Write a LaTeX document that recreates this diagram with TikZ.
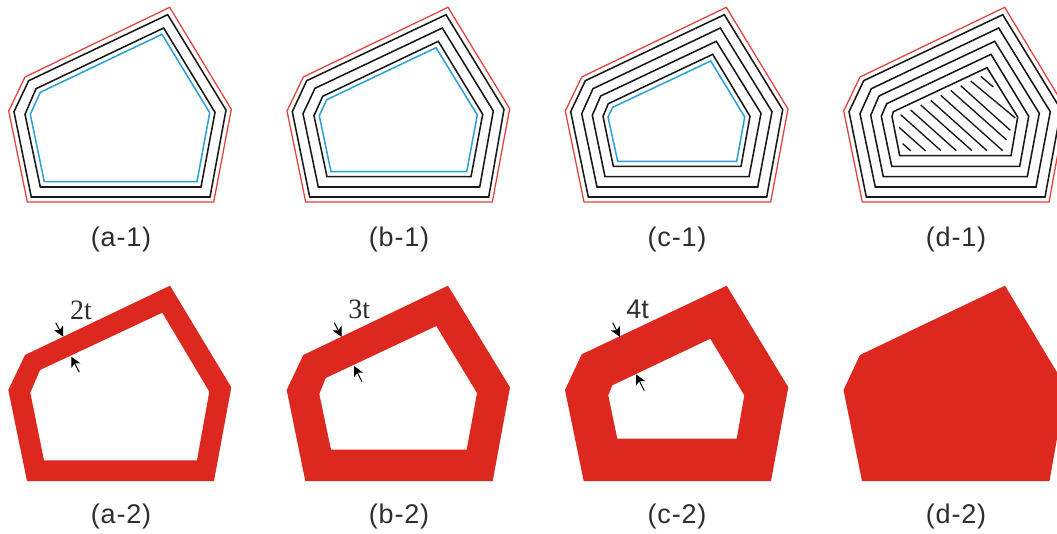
\documentclass[tikz,border=0pt]{standalone}
\usepackage{fontspec}
\setmainfont{Liberation Serif}
\newfontfamily\capfont[LetterSpace=3]{Liberation Sans}
\newfontfamily\tfont{Liberation Sans}
\usetikzlibrary{arrows.meta}
\definecolor{outred}{HTML}{E2403A}
\definecolor{fillred}{HTML}{DC281E}
\definecolor{inblue}{HTML}{2A9FD8}
\definecolor{captxt}{HTML}{2E2E2E}
\tikzset{
  redline/.style={draw=outred,line width=1.25pt,line join=miter},
  blackline/.style={draw=black!90,line width=1.55pt,line join=miter},
  blueline/.style={draw=inblue,line width=1.5pt,line join=miter},
  hatchline/.style={draw=black!90,line width=1.35pt},
  redfill/.style={fill=fillred,even odd rule},
  caption/.style={font=\capfont\fontsize{27}{30}\selectfont,text=captxt,inner sep=0pt,anchor=center},
  serifnum/.style={font=\fontsize{28}{30}\selectfont,text=captxt,inner sep=0pt,anchor=center},
  sansnum/.style={font=\tfont\fontsize{27}{30}\selectfont,text=captxt,inner sep=0pt,anchor=center},
  dimarrow/.style={-{Stealth[length=10pt,width=10pt,inset=2.5pt]},draw=black,line width=1pt}
}
\begin{document}
\begin{tikzpicture}[x=1pt,y=-1pt]
\useasboundingbox (0,0) rectangle (1057,533);
\clip (0,0) rectangle (1057,533);
\fill[white] (0,0) rectangle (1057,533);

% (a-1)
\path[redline] (169.7,7.3)--(231.3,109.3)--(213.7,202)--(27.3,202)--(8.7,111)--(25,77)--cycle;
\path[blackline] (167.7,14.7)--(226,110)--(210,197)--(31.3,197)--(14,111.7)--(28.7,80.7)--cycle;
\path[blackline] (163.7,28)--(215,112.3)--(201,187)--(40.3,187)--(25,114.3)--(36,88.7)--cycle;
\path[blueline] (162,34.3)--(209.7,112.7)--(197,181.7)--(44.3,181.7)--(30.3,114.3)--(40.3,92.3)--cycle;

% (b-1)
\path[redline] (448,7.3)--(509.7,108.7)--(492.3,202)--(305.7,202)--(287,111)--(303.3,77)--cycle;
\path[blackline] (446,14.7)--(504,109.3)--(488.7,197)--(309.7,197)--(292.3,111.7)--(306.7,80.7)--cycle;
\path[blackline] (442.3,28)--(493.3,111)--(479.7,187)--(318.3,187)--(303,113.7)--(315,88.3)--cycle;
\path[blackline] (438.3,41.3)--(482.7,114.3)--(471,176.7)--(327,176.7)--(314,115.7)--(322.7,96.3)--cycle;
\path[blueline] (436,47.7)--(477.3,115)--(466.7,171.7)--(331,171.7)--(319.3,115.7)--(326.7,99.7)--cycle;

% (c-1)
\path[redline] (726.3,7.3)--(788,109)--(770.7,202)--(584,202)--(565.3,111)--(581.7,77)--cycle;
\path[blackline] (724.3,14.7)--(782.7,109.7)--(766.7,197)--(588.3,197)--(570.7,111.7)--(585.3,80.7)--cycle;
\path[blackline] (720.3,28)--(772,111.7)--(757.7,187)--(597,187)--(581.7,113.7)--(593,88.7)--cycle;
\path[blackline] (716.3,41.3)--(761,113.3)--(749,176.7)--(605,176.7)--(592.3,115.3)--(600.7,96)--cycle;
\path[blackline] (712.7,54.3)--(750,116.3)--(741,166.3)--(613.3,166.3)--(603,116.3)--(608.3,103.7)--cycle;
\path[blueline] (710.7,61)--(744.7,117)--(736.7,161.3)--(617.7,161.3)--(608,117)--(612.7,107.3)--cycle;

% (d-1)
\path[redline] (1004.7,7.3)--(1066,109)--(1049,202)--(862.3,202)--(843.7,111)--(860,77)--cycle;
\path[blackline] (1002.7,14.7)--(1061,109.7)--(1045,197)--(866.3,197)--(849,111.7)--(863.7,80.7)--cycle;
\path[blackline] (998.7,28)--(1050.3,111.7)--(1036,187)--(875.3,187)--(860,113.7)--(871.3,88.7)--cycle;
\path[blackline] (994.7,41.3)--(1039.3,113.3)--(1027.3,176.7)--(883.3,176.7)--(870.7,115.3)--(879,96)--cycle;
\path[blackline] (991,54.3)--(1028.7,116.3)--(1019.7,166.3)--(891.7,166.3)--(881.3,116.3)--(886.7,103.7)--cycle;
\path[blackline] (987,67.7)--(1017.7,117)--(1011,155.7)--(899.7,155.7)--(892,116.7)--(893.3,111.7)--cycle;
\path[hatchline] (980.7,76.3)--(993.3,87);
\path[hatchline] (970.7,81)--(1015.3,118);
\path[hatchline] (960.7,85.7)--(1010.3,130.3);
\path[hatchline] (950.7,90.3)--(1006.7,140);
\path[hatchline] (940.7,95.3)--(1002.7,150.7);
\path[hatchline] (930.7,100.3)--(987,150.7);
\path[hatchline] (920.7,105)--(972,150.7);
\path[hatchline] (910.7,110)--(956.3,150.7);
\path[hatchline] (900.7,114.7)--(941,150.7);
\path[hatchline] (899,127.3)--(925.7,151);
\path[hatchline] (902.7,143.7)--(910.7,150.7);

% (a-2)
\path[redfill] (170,285.7)--(231.3,387.3)--(214,481)--(27,481)--(8.3,390)--(25,355)--cycle
 (162.3,312.7)--(209.3,391.7)--(197,460.3)--(44,460.3)--(30.3,392.7)--(40,370)--cycle;
% (b-2)
\path[redfill] (448,285.7)--(510,387.3)--(492.7,481)--(305.3,481)--(286.7,390)--(303.3,355)--cycle
 (436.3,326)--(477,393)--(466.7,449.7)--(331,449.7)--(319.3,394)--(325.7,378)--cycle;
% (c-2)
\path[redfill] (726.7,285.7)--(788.3,387.3)--(771,481)--(583.7,481)--(565,390)--(581.7,354.3)--cycle
 (710.3,338.7)--(744.3,395.3)--(736.7,438.7)--(617.3,438.7)--(608.3,395.3)--(612.3,385.3)--cycle;
% (d-2)
\path[fill=fillred] (1005,285.7)--(1066,387.3)--(1049.5,481)--(862,481)--(843.5,390)--(860,355)--cycle;

% dimension arrows
\coordinate (ao1) at (55.7,322.7); \coordinate (ao2) at (63.3,336.7);
\coordinate (ai1) at (79.3,372.3); \coordinate (ai2) at (71.3,356.7);
\coordinate (bo1) at (334.3,322.7); \coordinate (bo2) at (341.7,337);
\coordinate (bi1) at (362,381.7); \coordinate (bi2) at (354,366);
\coordinate (co1) at (612.7,322.7); \coordinate (co2) at (620,337);
\coordinate (ci1) at (644.3,390.7); \coordinate (ci2) at (636,374.3);
\draw[dimarrow] (ao1)--(ao2);
\draw[dimarrow] (ai1)--(ai2);
\draw[dimarrow] (bo1)--(bo2);
\draw[dimarrow] (bi1)--(bi2);
\draw[dimarrow] (co1)--(co2);
\draw[dimarrow] (ci1)--(ci2);

% thickness labels
\node[serifnum] (t2) at (81,310) {2t};
\node[serifnum] (t3) at (359.3,309) {3t};
\node[sansnum] (t4) at (637.7,309) {4t};

% captions
\node[caption] (a1) at (121,239.5) {(a-1)};
\node[caption] (b1) at (399,239.5) {(b-1)};
\node[caption] (c1) at (677,239.5) {(c-1)};
\node[caption] (d1) at (956,239.5) {(d-1)};
\node[caption] (a2) at (121,516.5) {(a-2)};
\node[caption] (b2) at (399,516.5) {(b-2)};
\node[caption] (c2) at (677,516.5) {(c-2)};
\node[caption] (d2) at (956,516.5) {(d-2)};
\end{tikzpicture}
\end{document}
